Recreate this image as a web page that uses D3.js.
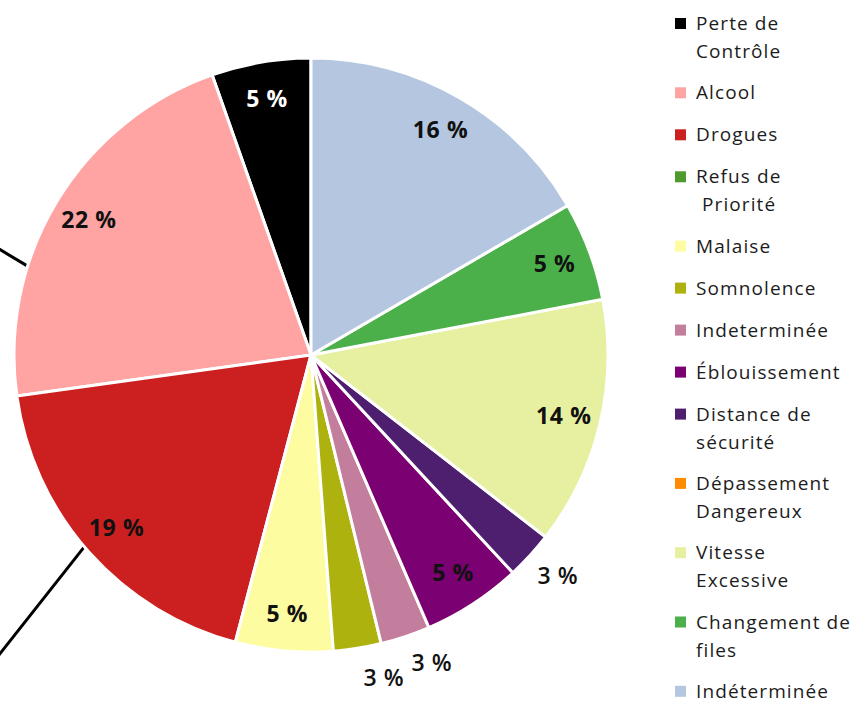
<!DOCTYPE html>
<html>
<head>
<meta charset="utf-8">
<script src="https://cdn.jsdelivr.net/npm/d3@7"></script>
<style>
  body { margin: 0; background: #fff; }
  svg { display: block; font-family: "Open Sans", "Lato", sans-serif; }
</style>
</head>
<body>
<svg id="pieChart" width="866" height="702"></svg>
<script>
// categories, in legend order (pie runs counter-clockwise from 12 o'clock)
const categories = [
  "Perte de Contrôle", "Alcool", "Drogues", "Refus de Priorité", "Malaise",
  "Somnolence", "Indeterminée", "Éblouissement", "Distance de sécurité",
  "Dépassement Dangereux", "Vitesse Excessive", "Changement de files", "Indéterminée"
];
// legend lines (wrapped as in the picture)
const legendLines = [
  ["Perte de", "Contrôle"], ["Alcool"], ["Drogues"], ["Refus de", "\u00a0Priorité"], ["Malaise"],
  ["Somnolence"], ["Indeterminée"], ["Éblouissement"], ["Distance de", "sécurité"],
  ["Dépassement", "Dangereux"], ["Vitesse", "Excessive"], ["Changement de", "files"], ["Indéterminée"]
];
// share of each cause, %, estimated from the slices
const values = [5.4, 21.8, 18.7, 0, 5.3, 2.6, 2.7, 5.4, 2.6, 0, 13.5, 5.4, 16.6];
// printed labels
const pctLabels = ["5 %", "22 %", "19 %", "", "5 %", "3 %", "3 %", "5 %", "3 %", "", "14 %", "5 %", "16 %"];
// labels that sit outside the pie
const outside = [false, false, false, false, false, true, true, false, true, false, false, false, false];
const colors = [
  "#000000", "#ffa3a3", "#cc2020", "#4f9a2c", "#fdfca0",
  "#aeb20f", "#c47e9d", "#7b0072", "#4e1f6e",
  "#ff8c00", "#e6f0a0", "#4cb04a", "#b4c6e0"
];
// small angle nudges (rad) for the outside labels, so they don't collide
const labelNudge = [0, 0, 0, 0, 0, -0.065, -0.05, 0, -0.012, 0, 0, 0, 0];

const svg = d3.select("#pieChart");
const cx = 311, cy = 355, radius = 297;

const pie = d3.pie().sort(null).value(d => d).startAngle(0).endAngle(-2 * Math.PI);
const arcs = pie(values);

const arc = d3.arc().innerRadius(0).outerRadius(radius);
const inR = 260, outR = 331;

const g = svg.append("g").attr("transform", `translate(${cx}, ${cy})`);

// leader lines going off the left edge
const leaders = [
  { angle: -1.267, dx: -30, dy: -18 },
  { angle: -2.273, dx: -90, dy: 114 }
];
leaders.forEach(l => {
  const x0 = radius * Math.sin(l.angle), y0 = -radius * Math.cos(l.angle);
  g.append("line")
    .attr("x1", x0).attr("y1", y0)
    .attr("x2", x0 + l.dx).attr("y2", y0 + l.dy)
    .attr("stroke", "#000").attr("stroke-width", 3);
});

g.selectAll("path")
  .data(arcs)
  .enter()
  .append("path")
  .attr("d", arc)
  .attr("fill", (d, i) => colors[i])
  .attr("stroke", "#fff")
  .attr("stroke-width", (d) => d.value > 0 ? 3 : 0)
  .attr("stroke-linejoin", "round");

g.selectAll("text.pct")
  .data(arcs)
  .enter()
  .append("text")
  .attr("class", "pct")
  .attr("transform", (d, i) => {
    const a = (d.startAngle + d.endAngle) / 2 + labelNudge[i];
    const r = outside[i] ? outR : inR;
    return `translate(${r * Math.sin(a)}, ${-r * Math.cos(a)})`;
  })
  .attr("text-anchor", "middle")
  .attr("dy", "0.36em")
  .attr("fill", (d, i) => i === 0 ? "#fff" : "#111")
  .style("font-size", "23px")
  .style("letter-spacing", "0.6px")
  .style("font-weight", (d, i) => outside[i] ? 600 : 700)
  .text((d, i) => pctLabels[i]);

// legend
const legend = svg.append("g").attr("transform", "translate(675, 0)");
let y = 30;
legendLines.forEach((lines, i) => {
  const item = legend.append("g");
  item.append("rect")
    .attr("x", 0).attr("y", y - 12)
    .attr("width", 11).attr("height", 11)
    .attr("fill", colors[i]);
  lines.forEach((t, j) => {
    item.append("text")
      .attr("x", 21).attr("y", y + j * 28)
      .attr("fill", "#1c1c1c")
      .style("font-size", "19px")
      .style("letter-spacing", "1.1px")
      .text(t);
  });
  y += 42 + (lines.length - 1) * 27.3;
});
</script>
</body>
</html>
